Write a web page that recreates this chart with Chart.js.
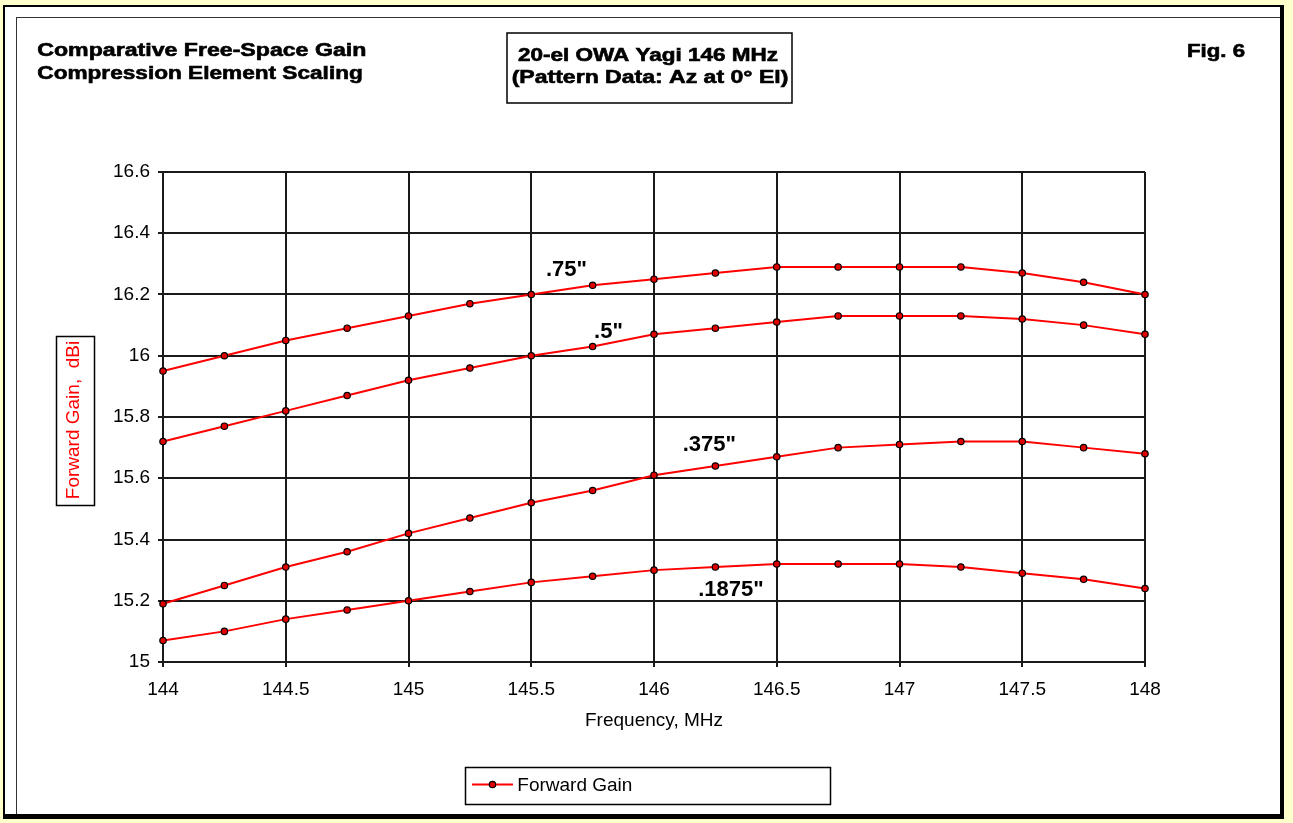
<!DOCTYPE html>
<html>
<head>
<meta charset="utf-8">
<script src="https://cdn.jsdelivr.net/npm/chart.js@4.4.1/dist/chart.umd.min.js"></script>
<style>
  html, body { margin: 0; padding: 0; }
  body { width: 1293px; height: 823px; background: #FFFFCC; position: relative; overflow: hidden; }
  #outer { position: absolute; left: 3px; top: 5px; width: 1281px; height: 814px; box-sizing: border-box;
           background: #fff; border-left: 2px solid #000; border-top: 2px solid #000;
           border-right: 4px solid #000; border-bottom: 5px solid #000; }
  #inner { position: absolute; left: 16px; top: 17px; width: 1264px; height: 797px; box-sizing: border-box;
           border-left: 1px solid #333; border-top: 1px solid #333; }
  #c { position: absolute; left: 0; top: 0; }
</style>
</head>
<body>
<div id="outer"></div>
<div id="inner"></div>
<canvas id="c" width="1293" height="823"></canvas>
<script>
// ---- Data ----
const frequencies = [144, 144.25, 144.5, 144.75, 145, 145.25, 145.5, 145.75, 146, 146.25, 146.5, 146.75, 147, 147.25, 147.5, 147.75, 148];
const gain075   = [15.95, 16.00, 16.05, 16.09, 16.13, 16.17, 16.20, 16.23, 16.25, 16.27, 16.29, 16.29, 16.29, 16.29, 16.27, 16.24, 16.20];
const gain050   = [15.72, 15.77, 15.82, 15.87, 15.92, 15.96, 16.00, 16.03, 16.07, 16.09, 16.11, 16.13, 16.13, 16.13, 16.12, 16.10, 16.07];
const gain0375  = [15.19, 15.25, 15.31, 15.36, 15.42, 15.47, 15.52, 15.56, 15.61, 15.64, 15.67, 15.70, 15.71, 15.72, 15.72, 15.70, 15.68];
const gain01875 = [15.07, 15.10, 15.14, 15.17, 15.20, 15.23, 15.26, 15.28, 15.30, 15.31, 15.32, 15.32, 15.32, 15.31, 15.29, 15.27, 15.24];
const xTickLabels = ['144', '144.5', '145', '145.5', '146', '146.5', '147', '147.5', '148'];
const yTickLabels = ['15', '15.2', '15.4', '15.6', '15.8', '16', '16.2', '16.4', '16.6'];
const seriesNames = ['.75"', '.5"', '.375"', '.1875"'];
const seriesValues = [gain075, gain050, gain0375, gain01875];
// curve label anchors (data coordinates: frequency, gain)
const labelFreq = [145.56, 145.756, 146.117, 146.18];
const labelGain = [16.261, 16.057, 15.690, 15.2165];

const FONT = '"Liberation Sans", Arial, sans-serif';

function fitText(ctx, text, x, baseline, font, width, align) {
  ctx.font = font;
  const w = ctx.measureText(text).width;
  const s = width / w;
  ctx.save();
  ctx.textBaseline = 'alphabetic';
  ctx.textAlign = 'left';
  let x0 = x;
  if (align === 'center') x0 = x - width / 2;
  ctx.translate(x0, baseline);
  ctx.scale(s, 1);
  ctx.fillText(text, 0, 0);
  ctx.lineWidth = 0.6;
  ctx.strokeStyle = ctx.fillStyle;
  ctx.strokeText(text, 0, 0);
  ctx.restore();
}

const decor = {
  id: 'decor',
  afterDraw(chart) {
    const ctx = chart.ctx;
    const xs = chart.scales.x, ys = chart.scales.y;
    ctx.save();
    ctx.fillStyle = '#000';
    // Titles
    fitText(ctx, 'Comparative Free-Space Gain', 37.3, 56, 'bold 18px ' + FONT, 329);
    fitText(ctx, 'Compression Element Scaling', 37.3, 79.3, 'bold 18px ' + FONT, 325.5);
    fitText(ctx, '20-el OWA Yagi 146 MHz', 648, 60.7, 'bold 18px ' + FONT, 260, 'center');
    fitText(ctx, '(Pattern Data: Az at 0\u00B0 El)', 650, 83.3, 'bold 18px ' + FONT, 276.6, 'center');
    fitText(ctx, 'Fig. 6', 1187, 57.3, 'bold 18px ' + FONT, 58);
    ctx.strokeStyle = '#000';
    ctx.lineWidth = 1.5;
    ctx.strokeRect(507, 33, 285, 70);

    // Y axis title box
    ctx.lineWidth = 1.5;
    ctx.strokeRect(56.5, 336.5, 38, 169);
    ctx.save();
    ctx.translate(79.3, 420);
    ctx.rotate(-Math.PI / 2);
    ctx.fillStyle = '#FF0000';
    ctx.font = '19px ' + FONT;
    ctx.textAlign = 'center';
    ctx.textBaseline = 'alphabetic';
    ctx.fillText('Forward Gain,  dBi', 0, 0);
    ctx.restore();

    // X axis title
    ctx.font = '19px ' + FONT;
    ctx.textAlign = 'center';
    ctx.textBaseline = 'alphabetic';
    ctx.fillStyle = '#000';
    ctx.fillText('Frequency, MHz', (chart.chartArea.left + chart.chartArea.right) / 2, 726);

    // Curve labels
    ctx.font = 'bold 22px ' + FONT;
    ctx.textAlign = 'left';
    for (let i = 0; i < seriesNames.length; i++) {
      ctx.fillText(seriesNames[i], xs.getPixelForValue(labelFreq[i]), ys.getPixelForValue(labelGain[i]));
    }

    // Legend
    const ds = chart.data.datasets[0];
    ctx.lineWidth = 1.5;
    ctx.strokeStyle = '#000';
    ctx.strokeRect(465.5, 767.5, 365, 37);
    ctx.strokeStyle = ds.borderColor;
    ctx.lineWidth = ds.borderWidth;
    ctx.beginPath();
    ctx.moveTo(472, 784.5);
    ctx.lineTo(513, 784.5);
    ctx.stroke();
    ctx.beginPath();
    ctx.arc(492.5, 784.5, ds.pointRadius, 0, Math.PI * 2);
    ctx.fillStyle = ds.pointBackgroundColor;
    ctx.fill();
    ctx.lineWidth = ds.pointBorderWidth;
    ctx.strokeStyle = ds.pointBorderColor;
    ctx.stroke();
    ctx.fillStyle = '#000';
    ctx.font = '19px ' + FONT;
    ctx.textAlign = 'left';
    ctx.fillText('Forward Gain', 517.3, 791.3);
    ctx.restore();
  }
};

const datasets = seriesValues.map((vals, si) => ({
  label: 'Forward Gain',
  data: frequencies.map((f, i) => ({ x: f, y: vals[i] })),
  borderColor: '#FF0000',
  borderWidth: 2,
  backgroundColor: '#FF0000',
  pointRadius: 3.2,
  pointBackgroundColor: '#E00000',
  pointBorderColor: '#000000',
  pointBorderWidth: 1.2,
  tension: 0,
  fill: false,
  clip: false
}));

new Chart(document.getElementById('c'), {
  type: 'line',
  data: { datasets },
  options: {
    responsive: false,
    animation: false,
    devicePixelRatio: 1,
    layout: { padding: { left: 0, right: 148, top: 172, bottom: 0 } },
    plugins: { legend: { display: false }, tooltip: { enabled: false }, title: { display: false } },
    scales: {
      x: {
        type: 'linear', min: 144, max: 148,
        ticks: { stepSize: 0.5, color: '#000', font: { family: FONT, size: 19 }, padding: 11,
                 maxRotation: 0, autoSkip: false,
                 callback: (v, i) => xTickLabels[i] },
        grid: { color: '#1a1a1a', lineWidth: 2, tickLength: 5, tickColor: '#1a1a1a', drawTicks: true },
        border: { color: '#1a1a1a', width: 2 },
        afterFit: (s) => { s.height = 161; }
      },
      y: {
        type: 'linear', min: 15, max: 16.6,
        ticks: { stepSize: 0.2, color: '#000', font: { family: FONT, size: 19 }, padding: 8,
                 autoSkip: false,
                 callback: (v, i) => yTickLabels[i] },
        grid: { color: '#1a1a1a', lineWidth: 2, tickLength: 5, tickColor: '#1a1a1a', drawTicks: true },
        border: { color: '#1a1a1a', width: 2 },
        afterFit: (s) => { s.width = 163; }
      }
    }
  },
  plugins: [decor]
});
</script>
</body>
</html>
